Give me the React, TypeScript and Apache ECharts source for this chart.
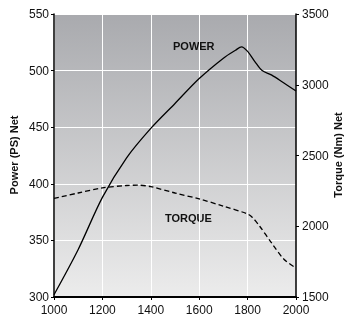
import React, { useEffect, useRef } from "react";
import * as echarts from "echarts";

const rpmPower = [1000, 1100, 1200, 1300, 1400, 1500, 1600, 1700, 1750, 1775, 1800, 1830, 1860, 1900, 1950, 2000];
const powerPS = [302, 342, 388, 423, 449, 471, 493, 511, 518, 521, 517, 508, 500, 496, 489, 482];

const rpmTorque = [1000, 1100, 1200, 1300, 1350, 1400, 1500, 1600, 1700, 1800, 1820, 1850, 1900, 1950, 2000];
const torqueNm = [2197, 2235, 2271, 2288, 2290, 2280, 2235, 2193, 2142, 2087, 2062, 2000, 1880, 1767, 1705];

const xTicks = { min: 1000, max: 2000, interval: 200 };
const powerTicks = { min: 300, max: 550, interval: 50 };
const torqueTicks = { min: 1500, max: 3500, interval: 500 };

const powerAxisName = "Power (PS) Net";
const torqueAxisName = "Torque (Nm) Net";

const FONT = "'Liberation Sans', Arial, sans-serif";

export default function App() {
  const ref = useRef<HTMLDivElement>(null);
  useEffect(() => {
    if (!ref.current) return;
    const chart = echarts.init(ref.current, undefined, { renderer: "svg" });
    const axisLabel = {
      color: "#111",
      fontSize: 12,
      fontFamily: FONT,
      formatter: (v: number) => String(v),
    };
    const nameStyle = {
      font: `bold 11px ${FONT}`,
      fill: "#111",
      align: "center",
      verticalAlign: "middle",
    };
    chart.setOption({
      animation: false,
      textStyle: { fontFamily: FONT },
      grid: {
        left: 54,
        right: 49,
        top: 14,
        bottom: 19,
        containLabel: false,
        outerBoundsMode: "none",
        show: true,
        borderWidth: 0,
        backgroundColor: new echarts.graphic.LinearGradient(0, 0, 0, 1, [
          { offset: 0, color: "#a9aaae" },
          { offset: 1, color: "#ececec" },
        ]),
      },
      xAxis: {
        type: "value",
        ...xTicks,
        axisLine: { show: true, lineStyle: { color: "#000", width: 2 } },
        axisTick: { show: true, length: 3, lineStyle: { color: "#000" } },
        axisLabel: { ...axisLabel, margin: 7 },
        splitLine: { show: true, lineStyle: { color: "#ffffff", width: 1 } },
      },
      yAxis: [
        {
          type: "value",
          ...powerTicks,
          axisLine: { show: true, lineStyle: { color: "#000", width: 1.5 } },
          axisTick: { show: true, length: 3, lineStyle: { color: "#000" } },
          axisLabel: { ...axisLabel, margin: 5 },
          splitLine: { show: true, lineStyle: { color: "#ffffff", width: 1 } },
        },
        {
          type: "value",
          ...torqueTicks,
          axisLine: { show: true, lineStyle: { color: "#000", width: 1.5 } },
          axisTick: { show: true, length: 3, lineStyle: { color: "#000" } },
          axisLabel: { ...axisLabel, margin: 6 },
          splitLine: { show: false },
        },
      ],
      series: [
        {
          name: "POWER",
          type: "line",
          yAxisIndex: 0,
          data: rpmPower.map((r, i) => [r, powerPS[i]]),
          smooth: 0.3,
          symbol: "none",
          lineStyle: { color: "#000", width: 1.3 },
          z: 3,
        },
        {
          name: "TORQUE",
          type: "line",
          yAxisIndex: 1,
          data: rpmTorque.map((r, i) => [r, torqueNm[i]]),
          smooth: 0.3,
          symbol: "none",
          lineStyle: { color: "#000", width: 1.3, type: [5, 3] },
          z: 3,
        },
      ],
      graphic: [
        {
          type: "text",
          x: 14,
          y: 155,
          rotation: Math.PI / 2,
          style: { text: powerAxisName, ...nameStyle },
        },
        {
          type: "text",
          x: 338,
          y: 155,
          rotation: Math.PI / 2,
          style: { text: torqueAxisName, ...nameStyle },
        },
        {
          type: "text",
          left: 173,
          top: 40,
          style: { text: "POWER", font: `bold 11px ${FONT}`, fill: "#111" },
        },
        {
          type: "text",
          left: 165,
          top: 212,
          style: { text: "TORQUE", font: `bold 11px ${FONT}`, fill: "#111" },
        },
      ],
    });
    return () => chart.dispose();
  }, []);
  return (
    <div
      ref={ref}
      style={{ position: "fixed", left: 0, top: 0, width: 345, height: 316 }}
    />
  );
}
